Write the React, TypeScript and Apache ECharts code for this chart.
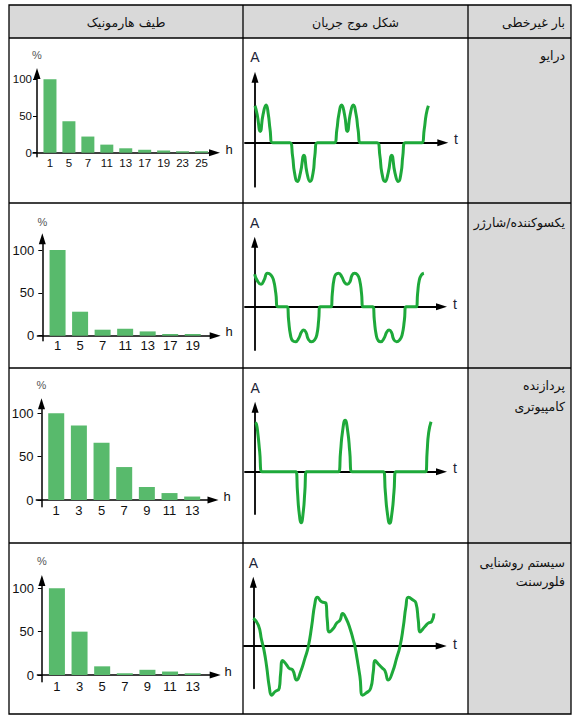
import React, { useEffect, useRef } from "react";
import * as echarts from "echarts";

// ---------------- data ----------------
const headerTitles = ["طیف هارمونیک", "شکل موج جریان", "بار غیرخطی"];
const loadLabels: string[][] = [
  ["درایو"],
  ["یکسوکننده/شارژر"],
  ["پردازنده", "کامپیوتری"],
  ["سیستم روشنایی", "فلورسنت"],
];

const driveOrders = ["1", "5", "7", "11", "13", "17", "19", "23", "25"];
const driveSpectrum = [100, 43, 22, 11, 6, 4, 3, 2, 2];
const rectifierOrders = ["1", "5", "7", "11", "13", "17", "19"];
const rectifierSpectrum = [100, 28, 7, 8, 5, 2, 2];
const computerOrders = ["1", "3", "5", "7", "9", "11", "13"];
const computerSpectrum = [100, 86, 66, 38, 15, 8, 4];
const fluorescentOrders = ["1", "3", "5", "7", "9", "11", "13"];
const fluorescentSpectrum = [100, 50, 10, 2, 6, 4, 2];
const spectrumTicks = [0, 50, 100];

// waveforms: [time (ms), relative current]
const driveWave: [number, number][] = [
  [0, 0.98], [0.5, 0.75], [1.2, 0.3], [1.85, 0.75], [2.55, 1.0], [3.05, 0.75], [3.45, 0.35], [4.0, 0],
  [8.0, 0], [8.6, -0.35], [9.05, -0.8], [9.7, -1.03], [10.4, -0.8], [11.2, -0.33], [11.9, -0.8], [12.6, -1.03], [13.3, -0.8], [13.7, -0.35], [14.27, 0],
  [18.17, 0], [18.75, 0.35], [19.2, 0.75], [19.85, 1.0], [20.5, 0.75], [21.15, 0.3], [21.8, 0.75], [22.5, 1.0], [23.15, 0.75], [23.6, 0.35], [24.2, 0],
  [28.0, 0], [28.6, -0.35], [29.05, -0.8], [29.77, -1.03], [30.5, -0.8], [31.3, -0.33], [32.05, -0.8], [32.8, -1.03], [33.45, -0.8], [33.85, -0.35], [34.35, 0],
  [38.17, 0], [38.75, 0.35], [39.2, 0.75], [39.7, 0.98],
];

const rectifierWave: [number, number][] = [
  [0, 0.97], [0.6, 0.78], [1.5, 0.67], [2.2, 0.8], [3.0, 1.0], [3.8, 0.95], [4.4, 0.8], [4.95, 0.4], [5.37, 0],
  [7.64, 0], [7.95, -0.4], [8.4, -0.85], [8.9, -1.02], [9.57, -1.05], [10.3, -0.95], [11.0, -0.75], [11.5, -0.7], [12.0, -0.76], [12.6, -0.98], [13.35, -1.05], [14.0, -1.0], [14.55, -0.85], [15.0, -0.4], [15.29, 0],
  [17.91, 0], [18.2, 0.4], [18.6, 0.82], [19.05, 0.97], [19.67, 1.0], [20.4, 0.9], [21.1, 0.72], [21.69, 0.67], [22.3, 0.74], [22.85, 0.95], [23.45, 1.0], [24.1, 0.95], [24.6, 0.8], [25.05, 0.4], [25.37, 0],
  [27.74, 0], [28.05, -0.4], [28.5, -0.85], [29.0, -1.02], [29.57, -1.05], [30.3, -0.95], [31.0, -0.75], [31.51, -0.7], [32.05, -0.76], [32.6, -0.98], [33.27, -1.05], [33.95, -1.0], [34.55, -0.85], [35.1, -0.4], [35.45, 0],
  [37.91, 0], [38.2, 0.4], [38.6, 0.8], [39.1, 0.95], [39.67, 1.0],
];

const computerWave: [number, number][] = [
  [0, 0.98], [0.3, 0.95], [0.65, 0.75], [1.05, 0.4], [1.56, 0],
  [9.37, 0], [9.73, -0.4], [10.09, -0.8], [10.58, -1.02], [11.06, -0.8], [11.42, -0.4], [11.78, 0],
  [19.17, 0], [19.62, 0.4], [20.07, 0.8], [20.67, 1.03], [21.28, 0.8], [21.73, 0.4], [22.18, 0],
  [29.48, 0], [29.9, -0.4], [30.33, -0.8], [30.9, -1.03], [31.46, -0.8], [31.89, -0.4], [32.31, 0],
  [39.17, 0], [39.5, 0.4], [39.85, 0.78], [40.4, 1.0],
];

const fluorescentWave: [number, number][] = [
  [0, 0.57], [1.1, 0.43], [1.83, 0.12], [2.34, -0.08], [2.93, -0.42], [3.52, -0.84], [4.03, -1.01],
  [4.76, -0.94], [5.71, -0.87], [6.01, -0.56], [6.45, -0.3], [7.33, -0.39], [7.91, -0.46], [8.64, -0.49],
  [9.52, -0.7], [10.4, -0.53], [11.36, -0.25], [12.09, -0.01], [12.82, 0.4], [13.55, 0.88], [14.07, 1.0],
  [15.02, 0.91], [15.97, 0.88], [16.26, 0.53], [16.7, 0.29], [17.58, 0.36], [18.32, 0.47], [19.05, 0.53],
  [19.63, 0.67], [20.37, 0.57], [21.25, 0.36], [21.98, 0.12], [22.34, -0.01], [22.86, -0.29], [23.44, -0.63],
  [24.03, -1.01], [24.76, -0.97], [25.79, -0.87], [26.37, -0.53], [26.74, -0.3], [27.69, -0.39], [28.42, -0.46],
  [28.94, -0.51], [29.67, -0.7], [30.62, -0.53], [31.5, -0.25], [32.23, -0.01], [32.97, 0.4], [33.55, 0.81],
  [34.07, 1.0], [35.02, 0.95], [35.75, 0.88], [36.26, 0.53], [36.63, 0.29], [37.73, 0.4], [38.46, 0.47],
  [39.19, 0.5], [39.71, 0.67],
];

// ---------------- layout / style ----------------
const W = 587;
const H = 728;
const FA_FONT = '"DejaVu Sans", "Noto Sans", sans-serif';
const NUM_FONT = '"Liberation Sans", Arial, sans-serif';
const BAR_COLOR = "#58ba6c";
const WAVE_COLOR = "#1ea93a";
const GRAY = "#d9d9d9";
const ARROW_HALF = 5.5;

const table = { left: 9, right: 571, top: 5, bottom: 714, headerBottom: 38, col1: 243, col2: 468, rows: [203, 368, 543] };
const headerY = 22.5;
const headerX = [126, 355.5, 565];
const labelRight = 565;
const labelYs = [[55.5], [222.7], [385, 406], [562, 581.7]];

const barLayouts = [
  { axisX: 37, zeroY: 152.7, fullY: 79.3, tipY: 68, bottomY: 156.7, xStart: 33, tipX: 220, bandLeft: 40.5, bandRight: 211, font: 11.5, xMargin: 4, yMargin: 5, pctY: 55, hX: 229, hY: 149.5, barWidth: 13 },
  { axisX: 42.3, zeroY: 335.7, fullY: 250, tipY: 233.3, bottomY: 340.7, xStart: 37.4, tipX: 220.7, bandLeft: 46.3, bandRight: 204, font: 13, xMargin: 3, yMargin: 8, pctY: 221.7, hX: 229, hY: 331.7, barWidth: 16 },
  { axisX: 41.5, zeroY: 500, fullY: 413.3, tipY: 398.3, bottomY: 506.7, xStart: 36.3, tipX: 218.5, bandLeft: 44.9, bandRight: 203.5, font: 13, xMargin: 3.5, yMargin: 8, pctY: 385, hX: 227, hY: 496.7, barWidth: 16 },
  { axisX: 41.9, zeroY: 675, fullY: 588.3, tipY: 575, bottomY: 681.7, xStart: 37.4, tipX: 220.7, bandLeft: 45.6, bandRight: 204, font: 13, xMargin: 4.5, yMargin: 8, pctY: 560.7, hX: 228, hY: 671, barWidth: 16 },
];

const waveLayouts = [
  { axisX: 255, zeroY: 142.7, pxPerMs: 4.367, pxPerA: 37.67, xStart: 245, tipX: 448.3, tipY: 71.7, bottomY: 186.7, aY: 57.3, tX: 456, tY: 139.3 },
  { axisX: 254.7, zeroY: 306.7, pxPerMs: 4.265, pxPerA: 33.4, xStart: 245, tipX: 447, tipY: 236.7, bottomY: 350, aY: 223.3, tX: 455, tY: 304 },
  { axisX: 255.1, zeroY: 471.7, pxPerMs: 4.355, pxPerA: 50, xStart: 245, tipX: 447, tipY: 401.7, bottomY: 514, aY: 388.3, tX: 455, tY: 468.3 },
  { axisX: 253.3, zeroY: 646, pxPerMs: 4.55, pxPerA: 48.67, xStart: 244, tipX: 446.7, tipY: 576.7, bottomY: 688.3, aY: 563.3, tX: 455, tY: 644 },
];

function arrowLine(width: number) {
  return {
    show: true,
    onZero: true,
    symbol: ["none", "triangle"],
    symbolSize: [7, 11],
    lineStyle: { color: "#000", width },
  };
}

function txt(text: string, x: number, y: number, size: number, family: string, align = "center", color = "#111") {
  return {
    type: "text",
    x,
    y,
    z: 20,
    silent: true,
    style: {
      text,
      fill: color,
      fontSize: size,
      fontFamily: family,
      align,
      verticalAlign: "middle",
      textAlign: align,
      textVerticalAlign: "middle",
    },
  };
}

function hline(y: number) {
  return { type: "line", z: 15, silent: true, shape: { x1: table.left, y1: y, x2: table.right, y2: y }, style: { stroke: "#000", lineWidth: 1.3 } };
}
function vline(x: number) {
  return { type: "line", z: 15, silent: true, shape: { x1: x, y1: table.top, x2: x, y2: table.bottom }, style: { stroke: "#000", lineWidth: 1.3 } };
}

function buildOption() {
  const grid: any[] = [];
  const xAxis: any[] = [];
  const yAxis: any[] = [];
  const series: any[] = [];
  const graphics: any[] = [];

  // table backgrounds
  graphics.push({ type: "rect", z: 0, silent: true, shape: { x: table.left, y: table.top, width: table.right - table.left, height: table.headerBottom - table.top }, style: { fill: GRAY } });
  graphics.push({ type: "rect", z: 0, silent: true, shape: { x: table.col2, y: table.headerBottom, width: table.right - table.col2, height: table.bottom - table.headerBottom }, style: { fill: GRAY } });
  // borders
  graphics.push({ type: "rect", z: 15, silent: true, shape: { x: table.left, y: table.top, width: table.right - table.left, height: table.bottom - table.top }, style: { fill: "none", stroke: "#000", lineWidth: 1.3 } });
  graphics.push(vline(table.col1), vline(table.col2), hline(table.headerBottom));
  table.rows.forEach((y) => graphics.push(hline(y)));

  // header texts
  graphics.push(txt(headerTitles[0], headerX[0], headerY, 12.5, FA_FONT, "center"));
  graphics.push(txt(headerTitles[1], headerX[1], headerY, 12.5, FA_FONT, "center"));
  graphics.push(txt(headerTitles[2], headerX[2], headerY, 12.5, FA_FONT, "right"));
  loadLabels.forEach((lines, i) => {
    lines.forEach((line, j) => graphics.push(txt(line, labelRight, labelYs[i][j], 12.5, FA_FONT, "right")));
  });

  const spectra = [
    { orders: driveOrders, values: driveSpectrum },
    { orders: rectifierOrders, values: rectifierSpectrum },
    { orders: computerOrders, values: computerSpectrum },
    { orders: fluorescentOrders, values: fluorescentSpectrum },
  ];
  const waves = [driveWave, rectifierWave, computerWave, fluorescentWave];
  const tickStep = spectrumTicks[1] - spectrumTicks[0];
  const hidden = { axisTick: { show: false }, axisLabel: { show: false }, splitLine: { show: false } };

  barLayouts.forEach((L, i) => {
    const { orders, values } = spectra[i];
    // frame with arrows
    let gi = grid.length;
    grid.push({ left: L.xStart, top: L.tipY + ARROW_HALF, width: L.tipX - ARROW_HALF - L.xStart, height: L.bottomY - L.tipY - ARROW_HALF });
    xAxis.push({ gridIndex: gi, type: "value", min: L.xStart - L.axisX, max: L.tipX - ARROW_HALF - L.axisX, axisLine: arrowLine(1.5), ...hidden });
    yAxis.push({ gridIndex: gi, type: "value", min: L.zeroY - L.bottomY, max: L.zeroY - L.tipY - ARROW_HALF, axisLine: arrowLine(1.5), ...hidden });
    // bars
    gi = grid.length;
    grid.push({ left: L.bandLeft, top: L.fullY, width: L.bandRight - L.bandLeft, height: L.zeroY - L.fullY });
    xAxis.push({
      gridIndex: gi,
      type: "category",
      data: orders,
      axisLine: { show: false },
      axisTick: { show: false },
      splitLine: { show: false },
      axisLabel: { interval: 0, fontSize: L.font, margin: L.xMargin, color: "#111", fontFamily: NUM_FONT },
    });
    yAxis.push({
      gridIndex: gi,
      type: "value",
      min: spectrumTicks[0],
      max: spectrumTicks[spectrumTicks.length - 1],
      interval: tickStep,
      offset: L.bandLeft - L.axisX,
      axisLine: { show: false },
      axisTick: { show: true, length: 4, lineStyle: { color: "#000", width: 1 } },
      axisLabel: { fontSize: L.font, margin: L.yMargin, color: "#111", fontFamily: NUM_FONT },
      splitLine: { show: false },
    });
    series.push({
      type: "bar",
      xAxisIndex: gi,
      yAxisIndex: gi,
      data: values,
      barWidth: L.barWidth,
      itemStyle: { color: BAR_COLOR },
      z: 3,
      silent: true,
    });
    graphics.push(txt("%", L.axisX, L.pctY, 11, NUM_FONT, "center", "#555"));
    graphics.push(txt("h", L.hX, L.hY, 13, NUM_FONT, "center", "#111"));
  });

  waveLayouts.forEach((L, i) => {
    const gi = grid.length;
    const top = L.tipY + ARROW_HALF;
    const lineEnd = L.tipX - ARROW_HALF;
    grid.push({ left: L.xStart, top, width: lineEnd - L.xStart, height: L.bottomY - top });
    xAxis.push({
      gridIndex: gi,
      type: "value",
      min: (L.xStart - L.axisX) / L.pxPerMs,
      max: (lineEnd - L.axisX) / L.pxPerMs,
      axisLine: arrowLine(1.8),
      ...hidden,
    });
    yAxis.push({
      gridIndex: gi,
      type: "value",
      min: -(L.bottomY - L.zeroY) / L.pxPerA,
      max: (L.zeroY - top) / L.pxPerA,
      axisLine: arrowLine(1.8),
      ...hidden,
    });
    series.push({
      type: "line",
      xAxisIndex: gi,
      yAxisIndex: gi,
      data: waves[i],
      showSymbol: false,
      symbol: "none",
      smooth: 0.55,
      clip: false,
      lineStyle: { color: WAVE_COLOR, width: 3 },
      z: 3,
      silent: true,
    });
    graphics.push(txt("A", L.axisX, L.aY, 14, NUM_FONT, "center", "#1c2336"));
    graphics.push(txt("t", L.tX, L.tY, 14, NUM_FONT, "center", "#1c2336"));
  });

  return {
    animation: false,
    backgroundColor: "#fff",
    grid,
    xAxis,
    yAxis,
    series,
    graphic: { elements: graphics },
  };
}

export default function App() {
  const ref = useRef<HTMLDivElement>(null);
  useEffect(() => {
    document.body.style.margin = "0";
    if (!ref.current) return;
    const chart = echarts.init(ref.current, undefined, { renderer: "svg" });
    chart.setOption(buildOption() as any);
    return () => chart.dispose();
  }, []);
  return <div ref={ref} style={{ width: W, height: H }} />;
}
